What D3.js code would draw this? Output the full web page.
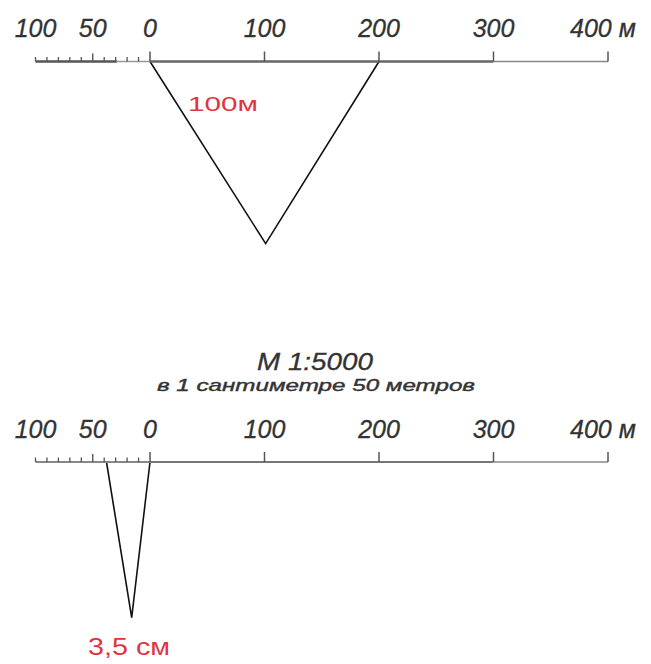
<!DOCTYPE html>
<html>
<head>
<meta charset="utf-8">
<script src="https://cdn.jsdelivr.net/npm/d3@7"></script>
<style>
  body { margin: 0; background: #fff; }
  text { font-family: "Liberation Sans", Arial, sans-serif; }
</style>
</head>
<body>
<div id="chart"></div>
<script>
// scale bar values (metres)
const labelValues = [-100, -50, 0, 100, 200, 300, 400];
const tickLabels = ['100', '50', '0', '100', '200', '300', '400 м'];
const majorTicks = [0, 100, 200, 300, 400];
const minorTicks = [-100, -90, -80, -70, -60, -40, -30, -20, -10];
const midTicks = [-50];

// triangles: [metres along bar, metres below bar]
const topTriangle = [[0, 0], [101, 159], [200, 0]];
const bottomTriangle = [[-38, 0], [-16, 136], [0, 0]];

const width = 651;
const height = 664;

const x = d3.scaleLinear()
  .domain([-100, 400])
  .range([35.5, 608]);

// same px per metre downwards
const depth = d3.scaleLinear()
  .domain([0, 100])
  .range([0, x(100) - x(0)]);

const svg = d3.select('#chart')
  .append('svg')
  .attr('width', width)
  .attr('height', height);

function drawBar(g, opts) {
  // labels
  g.selectAll('.lbl')
    .data(labelValues)
    .enter().append('text')
    .attr('class', 'lbl')
    .attr('x', (d, i) => i === labelValues.length - 1 ? x(d) - 38 : x(d))
    .attr('y', -24.5)
    .attr('text-anchor', (d, i) => i === labelValues.length - 1 ? 'start' : 'middle')
    .attr('font-size', 25)
    .attr('font-style', 'italic')
    .attr('fill', '#333')
    .attr('stroke', '#333')
    .attr('stroke-width', 0.3)
    .text((d, i) => tickLabels[i]);

  // bar line
  g.append('line')
    .attr('x1', x(-100)).attr('x2', x(opts.leftDark))
    .attr('stroke', opts.leftColor).attr('stroke-width', opts.leftWidth);
  g.append('line')
    .attr('x1', x(opts.leftDark)).attr('x2', x(0))
    .attr('stroke', '#999').attr('stroke-width', 1.5);
  g.append('line')
    .attr('x1', x(0)).attr('x2', x(300))
    .attr('stroke', opts.mainColor).attr('stroke-width', opts.mainWidth);
  g.append('line')
    .attr('x1', x(300)).attr('x2', x(400))
    .attr('stroke', '#888').attr('stroke-width', 1.5);

  // ticks
  g.selectAll('.major')
    .data(majorTicks)
    .enter().append('line')
    .attr('x1', d => x(d)).attr('x2', d => x(d))
    .attr('y1', 0).attr('y2', -10)
    .attr('stroke', '#555').attr('stroke-width', 1.5);
  g.selectAll('.mid')
    .data(midTicks)
    .enter().append('line')
    .attr('x1', d => x(d)).attr('x2', d => x(d))
    .attr('y1', 0).attr('y2', -8)
    .attr('stroke', '#555').attr('stroke-width', 1.4);
  g.selectAll('.minor')
    .data(minorTicks)
    .enter().append('line')
    .attr('x1', d => x(d)).attr('x2', d => x(d))
    .attr('y1', 0).attr('y2', -4.5)
    .attr('stroke', '#555').attr('stroke-width', 1.3);
}

function drawTriangle(g, pts) {
  g.append('path')
    .datum(pts)
    .attr('d', d3.line().x(d => x(d[0])).y(d => depth(d[1])))
    .attr('fill', 'none')
    .attr('stroke', '#111')
    .attr('stroke-width', 1.6);
}

// top panel
const topPanel = svg.append('g').attr('transform', 'translate(0, 61.5)');
drawTriangle(topPanel, topTriangle);
drawBar(topPanel, { leftDark: -29, leftColor: '#555', leftWidth: 2.5, mainColor: '#666', mainWidth: 2.5 });

topPanel.append('text')
  .attr('x', 188)
  .attr('y', 49.5)
  .attr('font-family', '"Open Sans", sans-serif')
  .attr('font-size', 21)
  .attr('fill', '#e0353f')
  .attr('textLength', 70)
  .attr('lengthAdjust', 'spacingAndGlyphs')
  .text('100м');

// title
svg.append('text')
  .attr('x', 315).attr('y', 370)
  .attr('text-anchor', 'middle')
  .attr('font-size', 23)
  .attr('font-style', 'italic')
  .attr('fill', '#333')
  .attr('stroke', '#333')
  .attr('stroke-width', 0.3)
  .attr('textLength', 116)
  .attr('lengthAdjust', 'spacingAndGlyphs')
  .text('М 1:5000');
svg.append('text')
  .attr('x', 316).attr('y', 391)
  .attr('text-anchor', 'middle')
  .attr('font-size', 17)
  .attr('font-style', 'italic')
  .attr('fill', '#333')
  .attr('stroke', '#333')
  .attr('stroke-width', 0.4)
  .attr('textLength', 318)
  .attr('lengthAdjust', 'spacingAndGlyphs')
  .text('в 1 сантиметре 50 метров');

// bottom panel
const bottomPanel = svg.append('g').attr('transform', 'translate(0, 462)');
drawTriangle(bottomPanel, bottomTriangle);
drawBar(bottomPanel, { leftDark: 0, leftColor: '#888', leftWidth: 1.8, mainColor: '#777', mainWidth: 2 });

bottomPanel.append('text')
  .attr('x', 88)
  .attr('y', 193)
  .attr('font-family', '"Open Sans", sans-serif')
  .attr('font-size', 23)
  .attr('fill', '#e0353f')
  .attr('textLength', 82)
  .attr('lengthAdjust', 'spacingAndGlyphs')
  .text('3,5 см');
</script>
</body>
</html>
